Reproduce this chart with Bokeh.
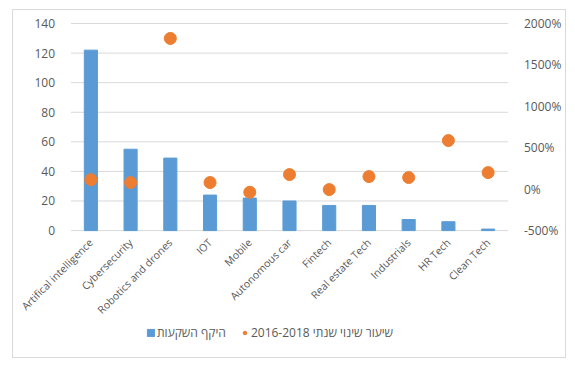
from bokeh.plotting import figure
from bokeh.models import (Range1d, LinearAxis, CategoricalAxis, FactorRange, Legend, LegendItem,
                          FixedTicker, CustomJSTickFormatter)
from bokeh.embed import file_html
from bokeh.resources import INLINE

categories = ["Artifical intelligence", "Cybersecurity", "Robotics and drones", "IOT", "Mobile",
              "Autonomous car", "Fintech", "Real estate Tech", "Industrials", "HR Tech", "Clean Tech"]
investment = [122, 55, 49, 24, 22, 20, 17, 17, 7.5, 6, 1]
growth = [115, 80, 1820, 80, -37, 176, -5, 152, 140, 587, 200]
left_ticks = [0, 20, 40, 60, 80, 100, 120, 140]
right_ticks = [-500, 0, 500, 1000, 1500, 2000]
bar_label = "היקף השקעות"
dot_label = "שיעור שינוי שנתי 2016-2018"

FONT = "Open Sans"
GREY = "#595959"

# the frame covers the whole chart box; axes are pinned at the plot-area edges
LEFT_MIN, LEFT_MAX = -77.7, 148.8
SCALE = 2500 / 140
RIGHT_MIN = -500 + LEFT_MIN * SCALE
RIGHT_MAX = -500 + LEFT_MAX * SCALE
N = len(categories)

p = figure(x_range=FactorRange(*categories, range_padding=0.2632), y_range=Range1d(LEFT_MIN, LEFT_MAX),
           frame_width=552, frame_height=335, output_backend="svg", toolbar_location=None,
           x_axis_location=None, y_axis_location=None,
           min_border_left=0, min_border_right=0, min_border_top=0, min_border_bottom=12)
p.styles = {"border": "1px solid #d9d9d9", "margin-left": "12px", "margin-top": "9px"}
p.outline_line_color = None
p.xgrid.visible = False
p.ygrid.visible = False
p.extra_y_ranges = {"right": Range1d(RIGHT_MIN, RIGHT_MAX)}

# horizontal gridlines across the plot area only
p.segment(x0=[0] * len(left_ticks), x1=[N] * len(left_ticks), y0=left_ticks, y1=left_ticks,
          line_color="#d9d9d9", line_width=1)

bars = p.vbar(x=categories, top=investment, width=0.33, color="#5B9BD5")
dots = p.scatter(x=categories, y=growth, size=12, color="#ED7D31", y_range_name="right")

ax_b = CategoricalAxis(fixed_location=0)
ax_l = LinearAxis(ticker=FixedTicker(ticks=left_ticks), fixed_location=0)
ax_r = LinearAxis(y_range_name="right", ticker=FixedTicker(ticks=right_ticks), fixed_location=N,
                  formatter=CustomJSTickFormatter(code="return tick + '%';"))
p.add_layout(ax_b, "below")
p.add_layout(ax_l, "left")
p.add_layout(ax_r, "right")

for ax in [ax_l, ax_r, ax_b]:
    ax.axis_line_color = None
    ax.major_tick_line_color = None
    ax.minor_tick_line_color = None
    ax.major_label_text_color = GREY
    ax.major_label_text_font = FONT
    ax.major_label_text_font_size = "12px"
ax_b.major_label_orientation = 0.785398
ax_b.major_label_text_font_size = "10.5px"
ax_b.major_label_standoff = 4
ax_l.major_label_standoff = 10
ax_r.major_label_standoff = 10

legend = Legend(items=[LegendItem(label=bar_label, renderers=[bars]),
                       LegendItem(label=dot_label, renderers=[dots])],
                orientation="horizontal", location=(133, 4),
                label_text_font=FONT, label_text_font_size="12px", label_text_color=GREY,
                glyph_width=9, glyph_height=9, spacing=14, border_line_color=None,
                background_fill_alpha=0, margin=0, padding=2, label_standoff=2)
p.add_layout(legend, "center")

open("out.html", "w").write(file_html(p, INLINE))
